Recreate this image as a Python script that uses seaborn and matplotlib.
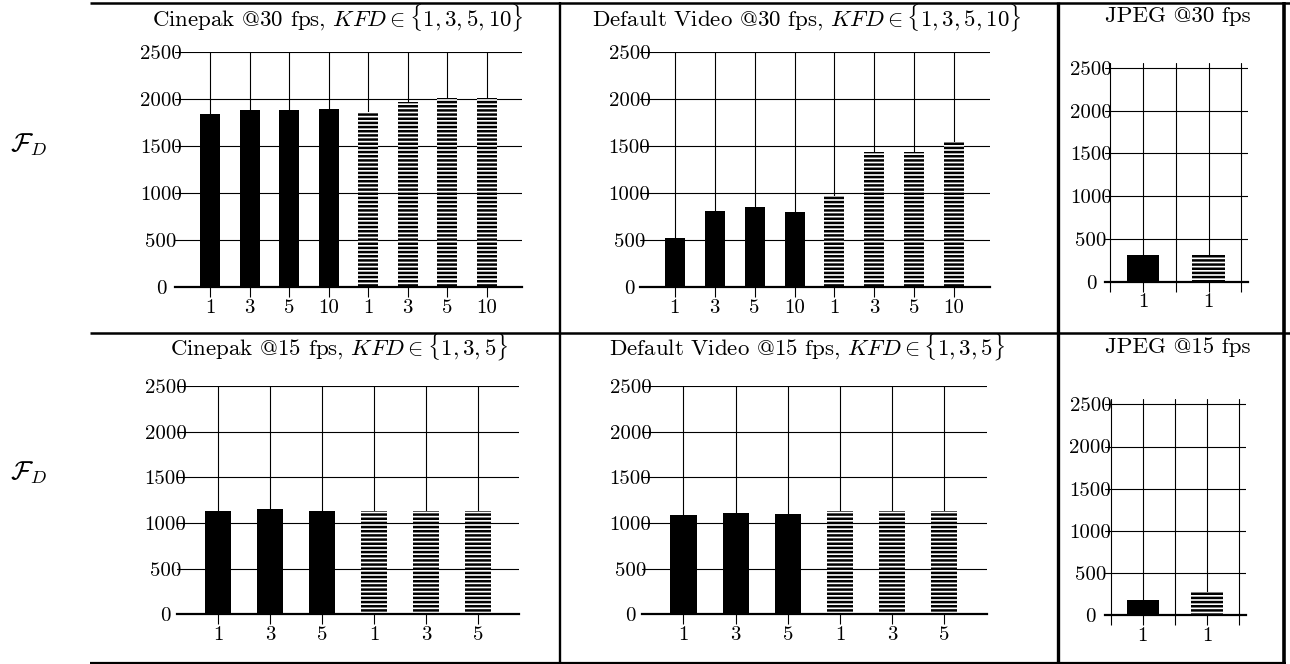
import numpy as np
import pandas as pd
import matplotlib
matplotlib.use("Agg")
import matplotlib.pyplot as plt
import seaborn as sns
from matplotlib.lines import Line2D

# ---------------- data ----------------
kfd_30 = ["1", "3", "5", "10"]
kfd_15 = ["1", "3", "5"]
kfd_jpeg = ["1"]

cinepak30_solid = [1840, 1885, 1885, 1895]
cinepak30_hatched = [1860, 1970, 2015, 2015]
default30_solid = [525, 808, 848, 798]
default30_hatched = [970, 1440, 1432, 1545]
jpeg30_solid = [310]
jpeg30_hatched = [312]

cinepak15_solid = [1130, 1150, 1135]
cinepak15_hatched = [1128, 1128, 1128]
default15_solid = [1085, 1105, 1098]
default15_hatched = [1128, 1128, 1128]
jpeg15_solid = [185]
jpeg15_hatched = [277]

y_ticks = [0, 500, 1000, 1500, 2000, 2500]

titles = [
    r"Cinepak @30 fps, $KFD \in \{1, 3, 5, 10\}$",
    r"Default Video @30 fps, $KFD \in \{1, 3, 5, 10\}$",
    "JPEG @30 fps",
    r"Cinepak @15 fps, $KFD \in \{1, 3, 5\}$",
    r"Default Video @15 fps, $KFD \in \{1, 3, 5\}$",
    "JPEG @15 fps",
]
row_label = r"$\mathcal{F}_D$"

# ---------------- style ----------------
sns.set_theme(style="white")
plt.rcParams["font.family"] = ["cmr10", "DejaVu Serif"]
plt.rcParams["mathtext.fontset"] = "cm"
plt.rcParams["axes.formatter.use_mathtext"] = True
plt.rcParams["hatch.linewidth"] = 1.8
plt.rcParams["hatch.color"] = "black"

W, H = 1290, 664
fig = plt.figure(figsize=(W / 100, H / 100), dpi=100)
fig.patch.set_facecolor("white")

TICK_FS = 15
TITLE_FS = 16.5


def add_ax(x0, y0, x1, y1):
    return fig.add_axes([x0 / W, 1 - y1 / H, (x1 - x0) / W, (y1 - y0) / H])


def panel(box, kfd, solid, hatched, xlim, ytop, ypad, jpeg=False):
    ax = add_ax(*box)
    n = len(kfd)
    keys = [f"s{i}" for i in range(n)] + [f"h{i}" for i in range(n)]
    df = pd.DataFrame({
        "key": keys,
        "value": list(solid) + list(hatched),
        "series": ["solid"] * n + ["hatched"] * n,
    })
    sns.barplot(data=df, x="key", y="value", hue="series", order=keys,
                hue_order=["solid", "hatched"],
                palette={"solid": "black", "hatched": "white"},
                dodge=False, width=0.5, saturation=1, edgecolor="black",
                linewidth=0, legend=False, ax=ax)
    for bar in ax.containers[1]:
        bar.set_hatch("----")
        bar.set_edgecolor("black")
        bar.set_linewidth(0)
    ax.set(xlabel="", ylabel="")
    ax.set_xlim(*xlim)
    ax.set_ylim(0, ytop)
    ax.set_yticks(y_ticks)
    ax.set_yticklabels([str(v) for v in y_ticks])
    if jpeg:
        ax.set_xticks([-0.5, 0, 0.5, 1, 1.5])
        ax.set_xticklabels(["", kfd[0], "", kfd[0], ""])
    else:
        ax.set_xticks(range(2 * n))
        ax.set_xticklabels(kfd * 2)
    ax.grid(True, axis="both", color="black", linewidth=0.8)
    ax.set_axisbelow(True)
    for s in ["top", "right", "left"]:
        ax.spines[s].set_visible(False)
    ax.spines["bottom"].set_color("black")
    ax.spines["bottom"].set_linewidth(1.6)
    ax.tick_params(axis="x", bottom=True, direction="out", length=7,
                   width=0.8, color="black", pad=1.5, labelsize=TICK_FS,
                   labelcolor="black")
    ax.tick_params(axis="y", left=False, length=0, pad=ypad,
                   labelsize=TICK_FS, labelcolor="black")
    for lab in ax.get_yticklabels():
        lab.set_horizontalalignment("center")
    ax.patch.set_alpha(0)
    return ax


panel((175, 52, 522, 287), kfd_30, cinepak30_solid, cinepak30_hatched,
      (-0.89, 7.89), 2500, 10)
panel((640, 52, 990, 287), kfd_30, default30_solid, default30_hatched,
      (-0.875, 7.9), 2500, 7.5)
panel((1105, 62.7, 1248, 281.7), kfd_jpeg, jpeg30_solid, jpeg30_hatched,
      (-0.58, 1.6), 2562, 10, jpeg=True)
panel((177.3, 386, 519.3, 614.3), kfd_15, cinepak15_solid, cinepak15_hatched,
      (-0.79, 5.8), 2500, 8.5)
panel((641.7, 386, 986.7, 614.3), kfd_15, default15_solid, default15_hatched,
      (-0.8, 5.81), 2500, 8)
panel((1105, 399, 1245.7, 615.3), kfd_jpeg, jpeg15_solid, jpeg15_hatched,
      (-0.59, 1.6), 2563, 10.5, jpeg=True)

# titles
title_pos = [(338, 17), (807, 17), (1178, 16), (339, 347), (807, 347), (1178, 347)]
for t, (x, y) in zip(titles, title_pos):
    fig.text(x / W, 1 - y / H, t, ha="center", va="center", fontsize=TITLE_FS,
             color="black")

# row labels
for y in (145, 473):
    fig.text(28 / W, 1 - y / H, row_label, ha="center", va="center",
             fontsize=19, color="black")


# table rules
def rule(x0, y0, x1, y1, lw):
    fig.add_artist(Line2D([x0 / W, x1 / W], [1 - y0 / H, 1 - y1 / H],
                          transform=fig.transFigure, color="black",
                          linewidth=lw, solid_capstyle="butt"))


rule(90, 2.5, 1290, 2.5, 1.8)
rule(90, 333, 1290, 333, 1.8)
rule(90, 662.5, 1286, 662.5, 1.6)
rule(560, 1.5, 560, 664, 1.7)
rule(1058, 1.5, 1058, 664, 2.4)
rule(1284, 1.5, 1284, 664, 2.6)

fig.savefig("out.png", dpi=100, facecolor="white")
